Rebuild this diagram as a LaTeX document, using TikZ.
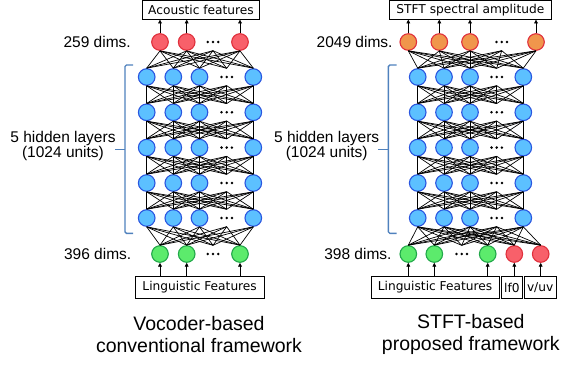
\documentclass[tikz,border=0pt]{standalone}
\usepackage{fontspec}
\setmainfont{Liberation Sans}
\newfontfamily\boxfont{DejaVu Sans}
\usetikzlibrary{arrows.meta}
\definecolor{hidfill}{HTML}{5CC0FF}
\definecolor{hiddraw}{HTML}{2A56E0}
\definecolor{redfill}{HTML}{F8606A}
\definecolor{reddraw}{HTML}{E0303C}
\definecolor{orfill}{HTML}{F0964C}
\definecolor{grfill}{HTML}{5CEB6C}
\definecolor{grdraw}{HTML}{22A84A}
\definecolor{brk}{HTML}{4F81BD}
\begin{document}
\begin{tikzpicture}[x=1pt,y=-1pt,
 neuron/.style={circle,minimum size=16.6pt,inner sep=0pt,line width=1.1pt},
 hid/.style={neuron,fill=hidfill,draw=hiddraw},
 outred/.style={neuron,fill=redfill,draw=reddraw},
 outor/.style={neuron,fill=orfill,draw=reddraw},
 inpg/.style={neuron,fill=grfill,draw=grdraw},
 dotsn/.style={rectangle,minimum width=12pt,minimum height=17pt,inner sep=0pt},
 conn/.style={line width=0.7pt,black},
 arr/.style={-{Triangle[length=3.8pt,width=3.8pt]},line width=0.7pt},
 fbox/.style={draw,line width=0.7pt,inner sep=0pt,font=\boxfont\fontsize{12.2}{14}\selectfont},
 lab/.style={font=\fontsize{15.5}{15}\selectfont,inner sep=0pt,align=center},
 ttl/.style={font=\fontsize{19.5}{22.4}\selectfont,align=center,inner sep=0pt},
 brace/.style={draw=brk,line width=1.4pt,rounded corners=1.5pt}
]
\useasboundingbox (0,0) rectangle (561,364);
% ---------- left network ----------
\foreach \r [count=\k] in {77,112.3,147.6,183,218} {
  \foreach \x [count=\i] in {146.7,173.3,199.5,253.3} \node[hid] (L\k-\i) at (\x,\r) {};
  \node[dotsn] (L\k-d) at (226.7,\r) {};
}
\foreach \x [count=\i] in {160,186.7,240} {
  \node[outred] (LO-\i) at (\x,42) {};
  \node[inpg] (LI-\i) at (\x,254) {};
}
\node[dotsn] (LO-d) at (213,42) {};
\node[dotsn] (LI-d) at (213,254) {};
\foreach \k [evaluate=\k as \kk using int(\k+1)] in {1,2,3,4}
  \foreach \a in {1,2,3,4,d}
    \foreach \b in {1,2,3,4,d} \draw[conn] (L\k-\a.south) -- (L\kk-\b.north);
\foreach \a in {1,2,3,d}
  \foreach \b in {1,2,3,4,d} { \draw[conn] (LO-\a.south) -- (L1-\b.north); \draw[conn] (LI-\a.north) -- (L5-\b.south); }
% ---------- right network ----------
\foreach \r [count=\k] in {77,112.3,147.6,183,218} {
  \foreach \x [count=\i] in {417.7,444,470,523.3} \node[hid] (R\k-\i) at (\x,\r) {};
  \node[dotsn] (R\k-d) at (496.7,\r) {};
}
\foreach \x [count=\i] in {408.3,439.3,470,536} \node[outor] (RO-\i) at (\x,42) {};
\node[dotsn] (RO-d) at (501.7,42) {};
\foreach \x [count=\i] in {408.3,434.3,487.7} \node[inpg] (RI-\i) at (\x,254) {};
\node[outred] (RI-4) at (514.3,254) {};
\node[outred] (RI-5) at (540.7,254) {};
\node[dotsn] (RI-d) at (461.7,254) {};
\foreach \k [evaluate=\k as \kk using int(\k+1)] in {1,2,3,4}
  \foreach \a in {1,2,3,4,d}
    \foreach \b in {1,2,3,4,d} \draw[conn] (R\k-\a.south) -- (R\kk-\b.north);
\foreach \a in {1,2,3,4,d}
  \foreach \b in {1,2,3,4,d} \draw[conn] (RO-\a.south) -- (R1-\b.north);
\foreach \a in {1,2,3,4,5,d}
  \foreach \b in {1,2,3,4,d} \draw[conn] (RI-\a.north) -- (R5-\b.south);
% ---------- dots ----------
\foreach \n in {L1-d,L2-d,L3-d,L4-d,L5-d,LO-d,LI-d,R1-d,R2-d,R3-d,R4-d,R5-d,RO-d,RI-d} {
  \fill ([xshift=-5.2pt]\n.center) circle (1.4pt);
  \fill (\n.center) circle (1.4pt);
  \fill ([xshift=5.2pt]\n.center) circle (1.4pt);
}
% ---------- boxes ----------
\node[fbox,minimum width=116.6pt,minimum height=18.6pt] (Bac) at (201,10) {Acoustic features};
\node[fbox,minimum width=162.7pt,minimum height=18.6pt] (Bst) at (470.35,10) {STFT spectral amplitude};
\node[fbox,minimum width=129.3pt,minimum height=21.6pt] (Bll) at (199.65,287.5) {Linguistic Features};
\node[fbox,minimum width=128pt,minimum height=21.6pt] (Brl) at (435,287.5) {Linguistic Features};
\node[fbox,minimum width=21.7pt,minimum height=21.6pt] (Blf) at (511.85,287.5) {lf0};
\node[fbox,minimum width=31.7pt,minimum height=21.6pt] (Bvu) at (540.15,287.5) {v/uv};
% ---------- arrows ----------
\foreach \i in {1,2,3} {
  \draw[arr] (LO-\i) -- (LO-\i |- Bac.south);
  \draw[arr] (LI-\i |- Bll.north) -- (LI-\i);
  \draw[arr] (RI-\i |- Brl.north) -- (RI-\i);
}
\foreach \i in {1,2,3,4} \draw[arr] (RO-\i) -- (RO-\i |- Bst.south);
\draw[arr] (RI-4 |- Blf.north) -- (RI-4);
\draw[arr] (RI-5 |- Bvu.north) -- (RI-5);
% ---------- brackets ----------
\draw[brace] (133,65) -- (125,65) -- (125,233.3) -- (133,233.3);
\draw[brace] (125,149.3) -- (115,149.3);
\draw[brace] (396.7,65) -- (388.3,65) -- (388.3,233.3) -- (396.7,233.3);
\draw[brace] (388.3,149.3) -- (378.3,149.3);
% ---------- labels ----------
\node[lab] (hl) at (63,145.5) {5 hidden layers\\(1024 units)};
\node[lab] (hr) at (326.7,145.5) {5 hidden layers\\(1024 units)};
\node[lab,anchor=east] (d1) at (131,42) {259 dims.};
\node[lab,anchor=east] (d2) at (131.5,254) {396 dims.};
\node[lab,anchor=east] (d3) at (392.7,42) {2049 dims.};
\node[lab,anchor=east] (d4) at (391.7,254) {398 dims.};
\node[ttl] (t1) at (199,334.5) {Vocoder-based\\conventional framework};
\node[ttl] (t2) at (470.8,334.5) {STFT-based\\proposed framework};
\end{tikzpicture}
\end{document}
